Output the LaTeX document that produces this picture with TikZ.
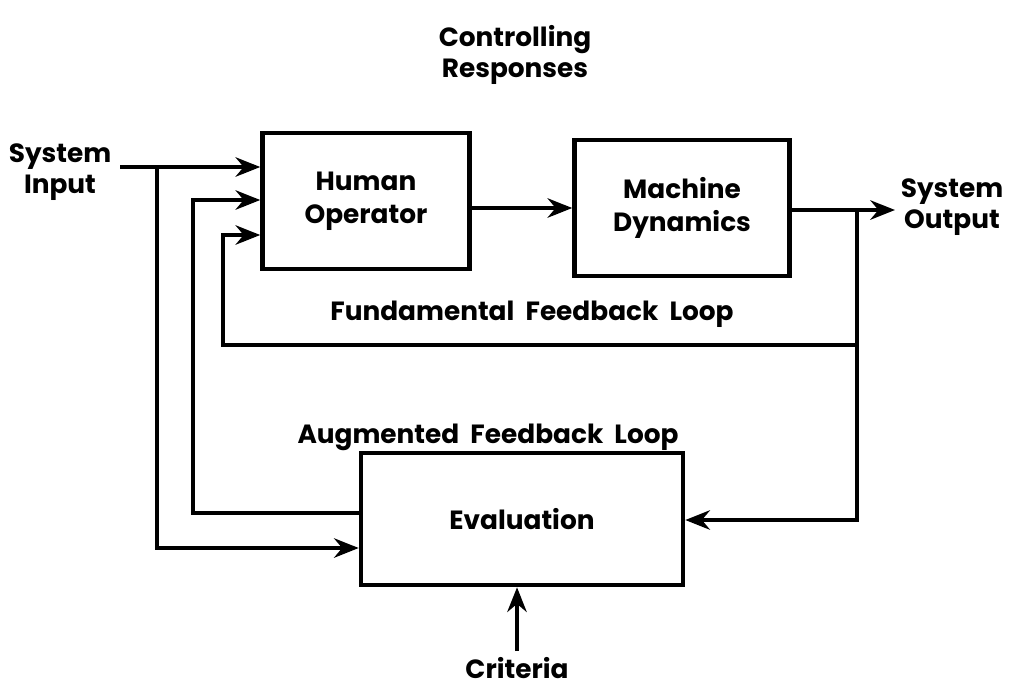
\documentclass[tikz,border=0pt]{standalone}
\usepackage{fontspec}
\setmainfont{Poppins}
\usetikzlibrary{arrows.meta,positioning}

\tikzset{
  block/.style={draw,line width=2.6pt,align=center,font=\bfseries\fontsize{15}{19}\selectfont},
  lbl/.style={align=center,font=\bfseries\fontsize{15}{17.5}\selectfont},
  flow/.style={line width=2.6pt,-{Stealth[length=14pt,width=11pt]}},
}

\begin{document}
\begin{tikzpicture}[x=0.02cm,y=-0.02cm]
  \useasboundingbox (0,0) rectangle (1030,694);
  \node[block,minimum width=4.14cm,minimum height=2.72cm] (hum) at (366,201) {Human\\Operator};
  \node[block,minimum width=4.3cm,minimum height=2.72cm] (mach) at (682,208) {Machine\\Dynamics};
  \node[block,minimum width=6.44cm,minimum height=2.64cm] (eval) at (522,519) {Evaluation};

  \node[lbl] (ctrl) at (515,55) {Controlling\\Responses};
  \node[lbl] (sysin) at (60,172) {System\\Input};
  \node[lbl] (sysout) at (952,207) {System\\Output};
  \node[lbl] (fund) at (532,314) {Fundamental\ \ Feedback\ \ Loop};
  \node[lbl] (aug) at (488,437) {Augmented\ \ Feedback\ \ Loop};
  \node[lbl] (crit) at (517,668) {Criteria};

  \coordinate (in) at (120,167);
  \coordinate (tap) at (857,210);
  % input to operator and evaluation
  \draw[flow] (in) -- (hum.west |- in);
  \draw[flow] (157,167) |- (eval.west |- 0,548);
  % augmented loop
  \draw[flow] (eval.west |- 0,513) -| (193,200) -- (hum.west |- 0,200);
  % fundamental loop
  \draw[flow] (tap) |- (223,345) |- (hum.west |- 0,235);
  \draw[flow] (hum.east |- 0,208) -- (mach.west |- 0,208);
  \draw[flow] (mach.east |- tap) -- (895,210);
  \draw[flow] (tap) |- (eval.east |- 0,520);
  \draw[flow] (crit.north) -- (crit.north |- eval.south);
\end{tikzpicture}
\end{document}
